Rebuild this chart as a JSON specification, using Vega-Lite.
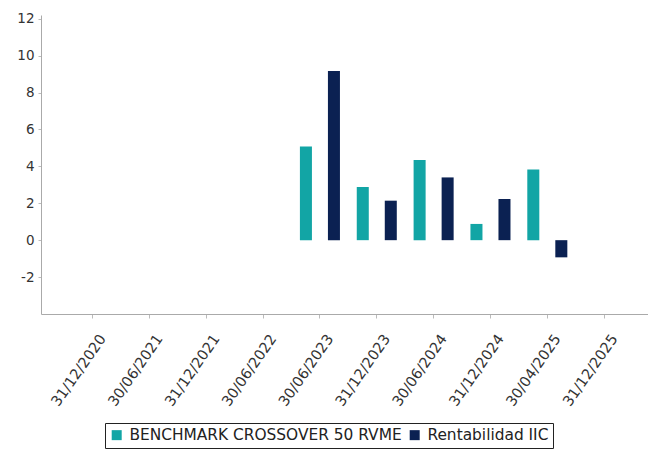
{
  "$schema": "https://vega.github.io/schema/vega-lite/v6.json",
  "width": 607,
  "height": 299,
  "autosize": {"type": "none"},
  "padding": {"left": 41, "top": 15, "right": 0, "bottom": 136},
  "background": "white",
  "config": {
    "font": "DejaVu Sans",
    "view": {"stroke": null},
    "axis": {"domainColor": "#aaaaaa", "tickColor": "#bbbbbb", "labelColor": "#333333", "grid": false, "title": null}
  },
  "data": {
    "values": [
      {"fecha": "30/06/2023", "serie": "BENCHMARK CROSSOVER 50 RVME", "valor": 5.07},
      {"fecha": "30/06/2023", "serie": "Rentabilidad IIC", "valor": 9.17},
      {"fecha": "31/12/2023", "serie": "BENCHMARK CROSSOVER 50 RVME", "valor": 2.88},
      {"fecha": "31/12/2023", "serie": "Rentabilidad IIC", "valor": 2.14},
      {"fecha": "30/06/2024", "serie": "BENCHMARK CROSSOVER 50 RVME", "valor": 4.35},
      {"fecha": "30/06/2024", "serie": "Rentabilidad IIC", "valor": 3.4},
      {"fecha": "31/12/2024", "serie": "BENCHMARK CROSSOVER 50 RVME", "valor": 0.88},
      {"fecha": "31/12/2024", "serie": "Rentabilidad IIC", "valor": 2.23},
      {"fecha": "30/04/2025", "serie": "BENCHMARK CROSSOVER 50 RVME", "valor": 3.83},
      {"fecha": "30/04/2025", "serie": "Rentabilidad IIC", "valor": -0.93}
    ]
  },
  "mark": {"type": "bar"},
  "encoding": {
    "x": {
      "field": "fecha",
      "type": "nominal",
      "scale": {
        "domain": ["31/12/2020", "30/06/2021", "31/12/2021", "30/06/2022", "30/06/2023", "31/12/2023", "30/06/2024", "31/12/2024", "30/04/2025", "31/12/2025"],
        "paddingInner": 0,
        "paddingOuter": 0.339,
        "align": 0.6
      },
      "axis": {"labelAngle": -55, "labelFontSize": 14.5, "tickSize": 4, "labelPadding": 14, "labelBaseline": "top", "labelOffset": 5}
    },
    "xOffset": {
      "field": "serie",
      "type": "nominal",
      "scale": {"domain": ["BENCHMARK CROSSOVER 50 RVME", "Rentabilidad IIC"], "paddingInner": 0.571, "paddingOuter": 0.3}
    },
    "y": {
      "field": "valor",
      "type": "quantitative",
      "scale": {"domain": [-4, 12.2], "nice": false},
      "axis": {"values": [-2, 0, 2, 4, 6, 8, 10, 12], "labelExpr": "toString(datum.value)", "labelFontSize": 13.5, "tickSize": 3, "labelPadding": 4}
    },
    "color": {
      "field": "serie",
      "type": "nominal",
      "scale": {"domain": ["BENCHMARK CROSSOVER 50 RVME", "Rentabilidad IIC"], "range": ["#12a5a5", "#0b2152"]},
      "legend": {
        "title": null,
        "orient": "none",
        "legendX": 64,
        "legendY": 408,
        "direction": "horizontal",
        "strokeColor": "#222222",
        "padding": 4,
        "symbolType": "square",
        "symbolSize": 100,
        "symbolStrokeWidth": 0,
        "labelFontSize": 15.4,
        "labelLimit": 400,
        "labelColor": "#222222",
        "columnPadding": 5,
        "labelOffset": 5
      }
    }
  }
}
